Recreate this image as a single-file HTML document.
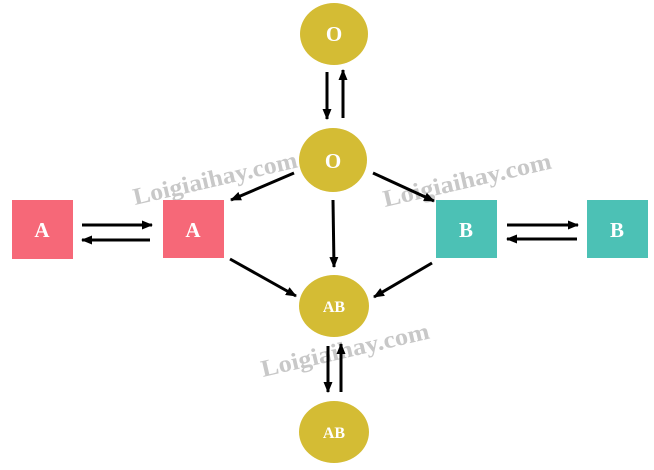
<!DOCTYPE html>
<html><head><meta charset="utf-8"><style>
html,body{margin:0;padding:0;background:#fff;width:654px;height:470px;overflow:hidden}
</style></head><body>
<svg width="654" height="470" viewBox="0 0 654 470" xmlns="http://www.w3.org/2000/svg" font-family="Liberation Serif, serif" font-weight="bold">
<defs>
<marker id="ah" markerWidth="11" markerHeight="9" refX="10" refY="4.5" orient="auto" markerUnits="userSpaceOnUse">
<path d="M0,0 L11,4.5 L0,9 z" fill="#000"/></marker>
</defs>
<g fill="#c8c8c8" font-family="Liberation Serif, serif" font-size="24" font-weight="bold">
<text x="135" y="205" transform="rotate(-13 135 205)" textLength="168" lengthAdjust="spacingAndGlyphs">Loigiaihay.com</text>
<text x="385" y="207" transform="rotate(-13 385 207)" textLength="172" lengthAdjust="spacingAndGlyphs">Loigiaihay.com</text>
<text x="263" y="377" transform="rotate(-13 263 377)" textLength="172" lengthAdjust="spacingAndGlyphs">Loigiaihay.com</text>
</g>
<g fill="#d4bc34">
<ellipse cx="334" cy="34" rx="34" ry="31"/>
<ellipse cx="333" cy="160" rx="34" ry="32"/>
<ellipse cx="334" cy="306" rx="35" ry="31"/>
<ellipse cx="334" cy="432" rx="35" ry="31"/>
</g>
<rect x="12" y="200" width="61" height="59" fill="#f66878"/>
<rect x="163" y="200" width="61" height="58" fill="#f66878"/>
<rect x="436" y="200" width="61" height="58" fill="#4cc1b5"/>
<rect x="587" y="200" width="61" height="58" fill="#4cc1b5"/>
<g fill="#fff" text-anchor="middle">
<text x="334" y="41" font-size="21">O</text>
<text x="333" y="168" font-size="21">O</text>
<text x="334" y="312" font-size="16">AB</text>
<text x="334" y="438" font-size="16">AB</text>
<text x="42" y="237" font-size="21">A</text>
<text x="193" y="237" font-size="21">A</text>
<text x="466" y="237" font-size="21">B</text>
<text x="617" y="237" font-size="21">B</text>
</g>
<g stroke="#000" stroke-width="3" marker-end="url(#ah)">
<line x1="327" y1="72" x2="327" y2="119"/>
<line x1="343" y1="118" x2="343" y2="70"/>
<line x1="328" y1="346" x2="328" y2="392"/>
<line x1="341" y1="392" x2="341" y2="344"/>
<line x1="82" y1="225" x2="152" y2="225"/>
<line x1="150" y1="240" x2="82" y2="240"/>
<line x1="507" y1="225" x2="578" y2="225"/>
<line x1="577" y1="239" x2="507" y2="239"/>
<line x1="294" y1="173" x2="231" y2="200"/>
<line x1="333" y1="200" x2="334" y2="267"/>
<line x1="373" y1="173" x2="434" y2="201"/>
<line x1="230" y1="259" x2="296" y2="296"/>
<line x1="432" y1="263" x2="374" y2="297"/>
</g>
</svg>
</body></html>
